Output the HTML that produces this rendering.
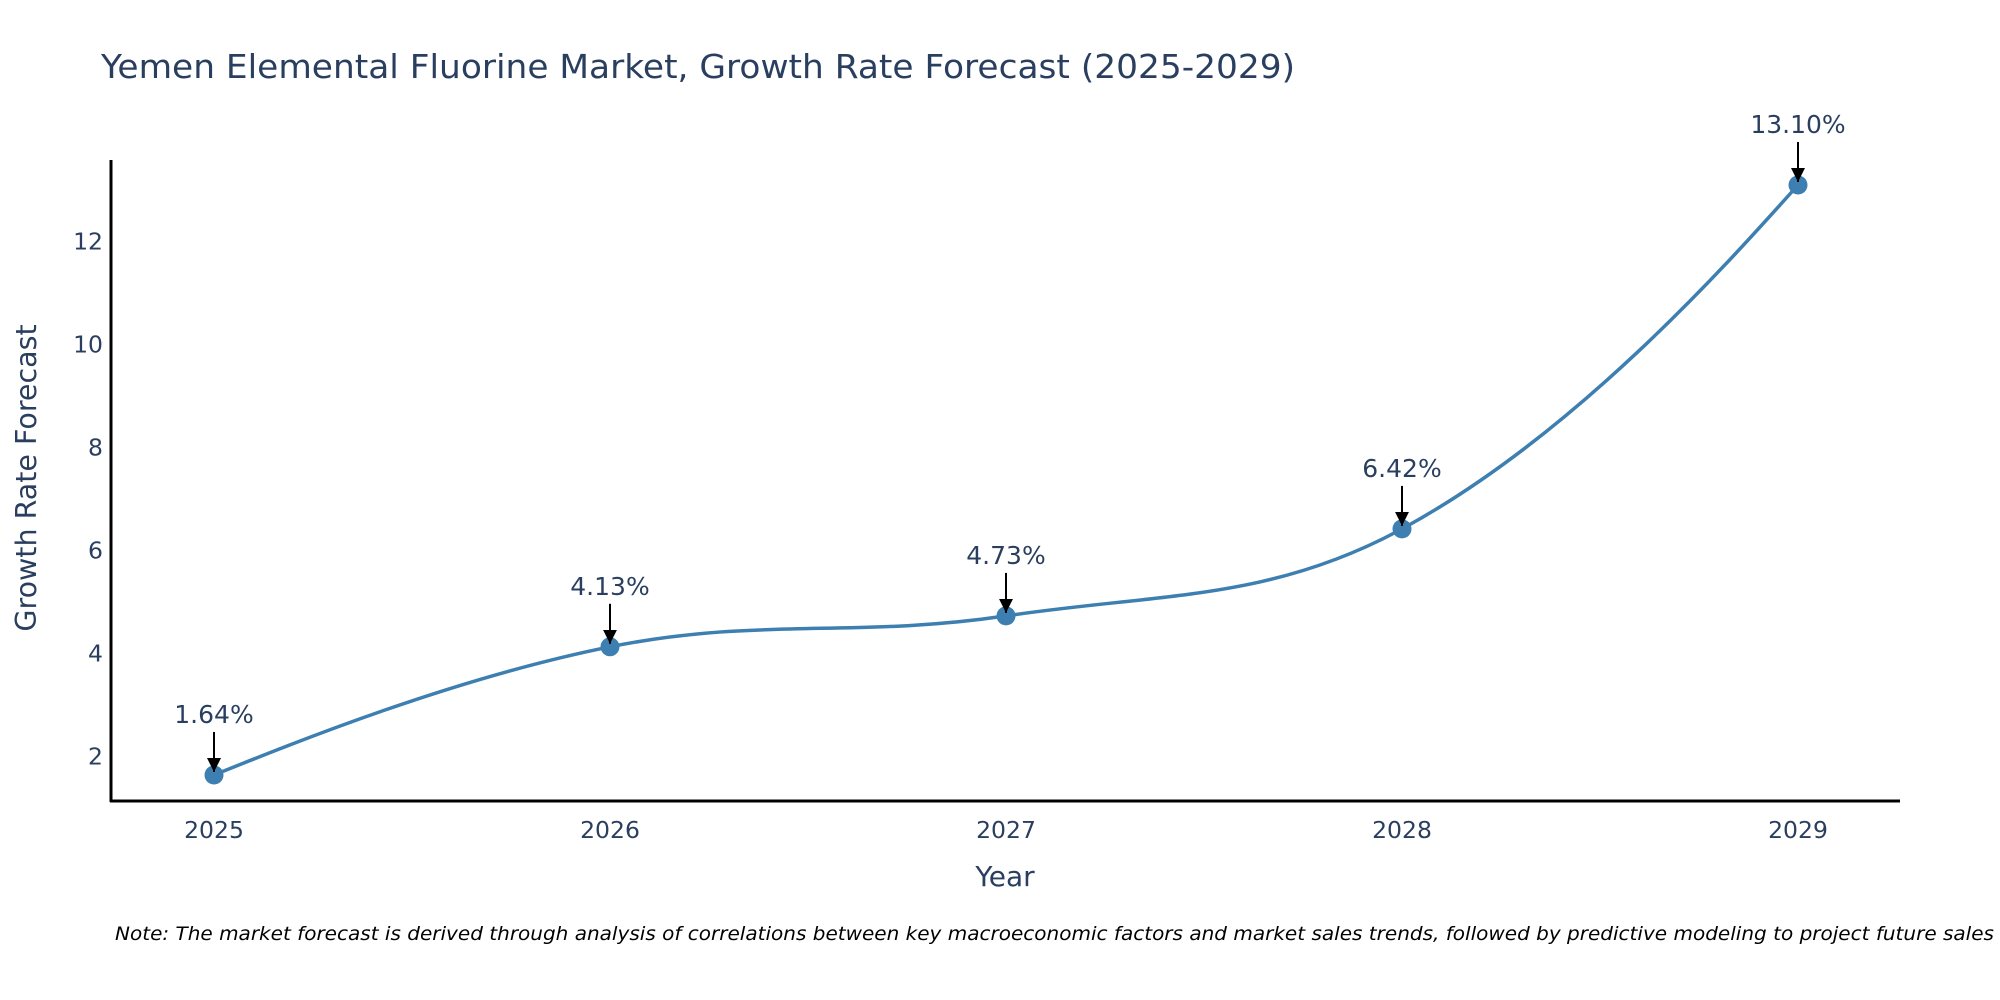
<!DOCTYPE html>
<html><head><meta charset="utf-8"><style>
html,body{margin:0;padding:0;background:#fff;}
svg{display:block;font-family:"DejaVu Sans","Liberation Sans",sans-serif;}
</style></head><body>
<svg id="chart" width="2000" height="1000" viewBox="0 0 2000 1000">
<defs><marker id="ah" viewBox="0 0 10 10" refX="10" refY="5" markerWidth="14" markerHeight="14" orient="auto" markerUnits="userSpaceOnUse"><path d="M0,0 L10,5 L0,10 z" fill="#000"/></marker></defs>
<text x="101" y="78" font-size="33" fill="#2a3f5f" textLength="1194" lengthAdjust="spacingAndGlyphs">Yemen Elemental Fluorine Market, Growth Rate Forecast (2025-2029)</text>
<g id="yticks"></g>
<g id="xticks"></g>
<line x1="111" y1="160" x2="111" y2="802" stroke="#000" stroke-width="3"/>
<line x1="110" y1="801" x2="1900" y2="801" stroke="#000" stroke-width="3"/>
<path id="line" fill="none" stroke="#3d7fb0" stroke-width="3.5"/>
<g id="points"></g>
<g id="annots"></g>
<text x="1005" y="886" font-size="28" fill="#2a3f5f" text-anchor="middle">Year</text>
<text transform="translate(36,478) rotate(-90)" font-size="28.5" fill="#2a3f5f" text-anchor="middle">Growth Rate Forecast</text>
<text x="115" y="940" font-size="19" font-style="italic" fill="#000" textLength="1879" lengthAdjust="spacingAndGlyphs">Note: The market forecast is derived through analysis of correlations between key macroeconomic factors and market sales trends, followed by predictive modeling to project future sales</text>
</svg>
<script>
const years = ["2025","2026","2027","2028","2029"];
const growth = [1.64, 4.13, 4.73, 6.42, 13.10];
const labels = ["1.64%","4.13%","4.73%","6.42%","13.10%"];
const yTicks = [2,4,6,8,10,12];
const NS="http://www.w3.org/2000/svg";
function xs(i){return 214+i*396;}
function ys(v){return 859.4-v*51.48;}
function mk(t,a,p){const e=document.createElementNS(NS,t);for(const k in a)e.setAttribute(k,a[k]);p.appendChild(e);return e;}
const yt=document.getElementById('yticks');
yTicks.forEach(v=>{const t=mk('text',{x:103,y:ys(v)+8,'font-size':23.5,fill:'#2a3f5f','text-anchor':'end'},yt);t.textContent=v;

});
const xt=document.getElementById('xticks');
years.forEach((y,i)=>{const t=mk('text',{x:xs(i),y:838,'font-size':23.5,fill:'#2a3f5f','text-anchor':'middle'},xt);t.textContent=y;

});
const P=growth.map((v,i)=>[xs(i),ys(v)]);
const n=P.length, cin=[], cout=[];
function dist(a,b){return Math.hypot(a[0]-b[0],a[1]-b[1]);}
for(let i=0;i<n;i++){
  if(i===0||i===n-1){cin.push(P[i]);cout.push(P[i]);continue;}
  const d0=dist(P[i],P[i-1]),d1=dist(P[i],P[i+1]);
  const tx=P[i+1][0]-P[i-1][0],ty=P[i+1][1]-P[i-1][1],s=d0+d1;
  cin.push([P[i][0]-tx*d0/(2.6*s),P[i][1]-ty*d0/(2.6*s)]);
  cout.push([P[i][0]+tx*d1/(2.6*s),P[i][1]+ty*d1/(2.6*s)]);
}
let d=`M${P[0][0]},${P[0][1]}`;
for(let i=0;i<n-1;i++){
  let c1=cout[i],c2=cin[i+1];
  if(i===0) c1=[(P[0][0]*2+c2[0])/3,(P[0][1]*2+c2[1])/3];
  if(i===n-2) c2=[(P[n-1][0]*2+c1[0])/3,(P[n-1][1]*2+c1[1])/3];
  d+=` C${c1[0]},${c1[1]} ${c2[0]},${c2[1]} ${P[i+1][0]},${P[i+1][1]}`;
}
document.getElementById('line').setAttribute('d',d);
const pg=document.getElementById('points'),ag=document.getElementById('annots');
P.forEach((p,i)=>{const c=mk('circle',{cx:p[0],cy:p[1],r:9.5,fill:'#3d7fb0'},pg);


const l=mk('line',{x1:p[0],y1:p[1]-43,x2:p[0],y2:p[1]-3,stroke:'#000','stroke-width':2,'marker-end':'url(#ah)'},ag);


const t=mk('text',{x:p[0],y:p[1]-52,'font-size':25,fill:'#2a3f5f','text-anchor':'middle'},ag);t.textContent=labels[i];

});
</script>
</body></html>
